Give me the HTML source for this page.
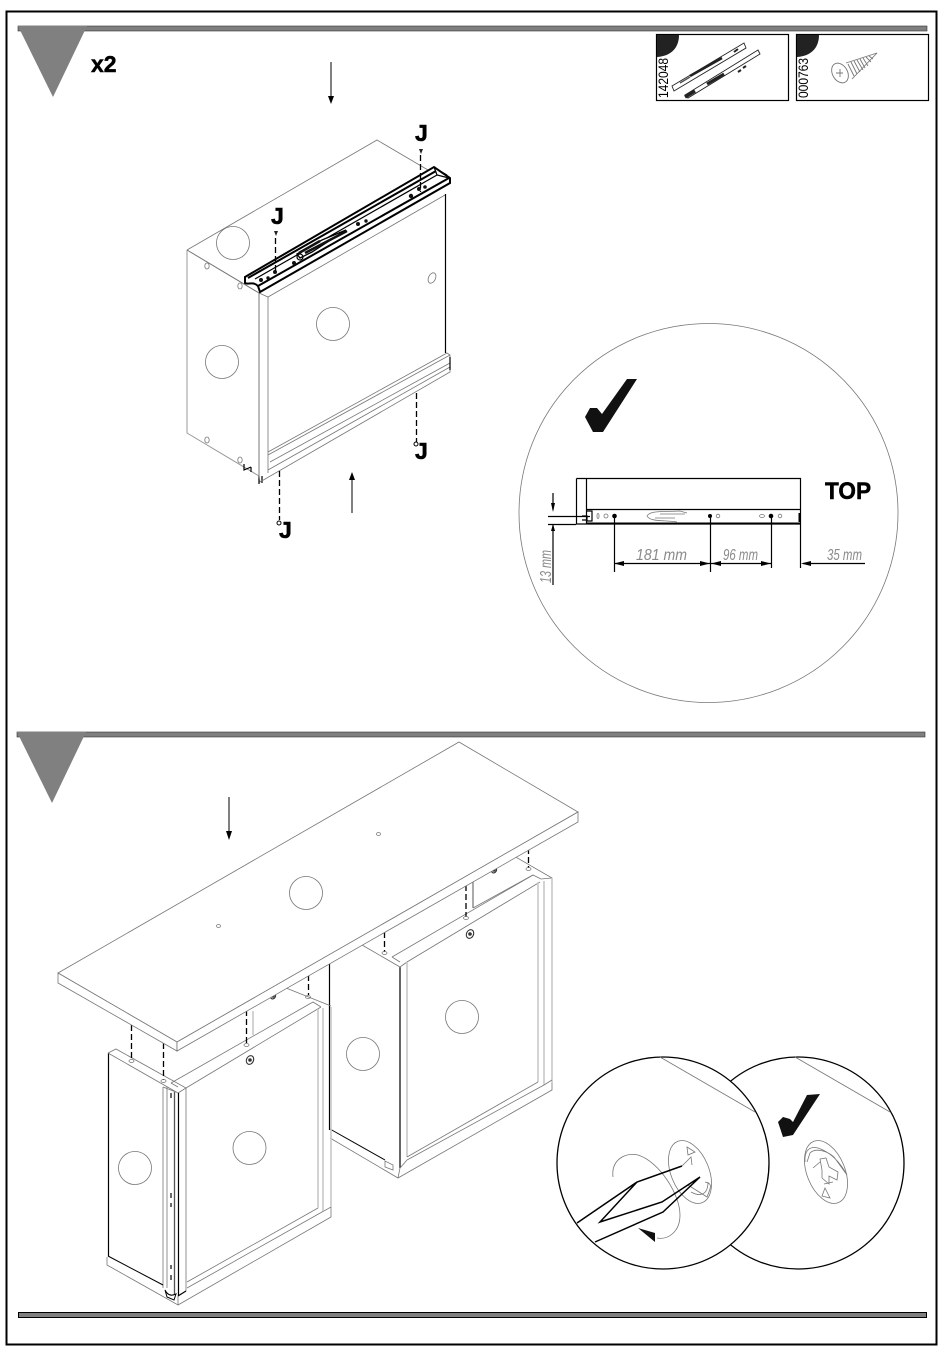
<!DOCTYPE html>
<html><head><meta charset="utf-8"><style>
html,body{margin:0;padding:0;background:#fff}
svg{display:block}
text{font-family:"Liberation Sans",sans-serif}
.g{fill:none;stroke:#777;stroke-width:.8}
.l{fill:none;stroke:#c8c8c8;stroke-width:1.6}
.k{fill:none;stroke:#000;stroke-width:1.2}
.b{fill:none;stroke:#000;stroke-width:2}
.d{fill:none;stroke:#000;stroke-width:1.3;stroke-dasharray:6 3}
.f{fill:#fff;stroke:#777;stroke-width:.8}
.dim{font-family:"Liberation Sans",sans-serif;font-style:italic;font-size:16px;fill:#8a8a8a;font-weight:normal}
</style></head><body>
<svg width="950" height="1360" viewBox="0 0 950 1360" xmlns="http://www.w3.org/2000/svg">
<rect width="950" height="1360" fill="#fff"/>
<rect x="6.500" y="11.500" width="930" height="1333" fill="none" stroke="#000" stroke-width="2"/>

<!-- header bars -->
<rect x="18" y="26" width="909" height="5" fill="#7f7f7f" stroke="#333" stroke-width=".6"/>
<polygon points="18,26 87,26 53,97" fill="#808080"/>
<text x="91" y="72" font-size="23" font-weight="bold" stroke="#000" stroke-width=".5">x2</text>
<rect x="17" y="732" width="908" height="5" fill="#7f7f7f" stroke="#333" stroke-width=".6"/>
<polygon points="17,732 86,732 52,803" fill="#808080"/>
<rect x="18.500" y="1312.500" width="908" height="5" fill="#7f7f7f" stroke="#000" stroke-width="1"/>

<!-- part cards -->
<rect x="656.500" y="34.500" width="132" height="66" fill="#fff" stroke="#000" stroke-width="1.200"/>
<rect x="796.500" y="34.500" width="132" height="66" fill="#fff" stroke="#000" stroke-width="1.200"/>
<path d="M657,35H679C679,47 672,56 657,57Z" fill="#222"/>
<path d="M797,35H819C819,47 812,56 797,57Z" fill="#222"/>
<text transform="translate(668,98) rotate(-90)" font-size="14" textLength="40" lengthAdjust="spacingAndGlyphs">142048</text>
<text transform="translate(808,98) rotate(-90)" font-size="14" textLength="40" lengthAdjust="spacingAndGlyphs">000763</text>
<g fill="#fff" stroke="#222" stroke-width=".9">
<polygon points="672,86 744,43 746,48 674,91"/>
<polygon points="685,95 758,50 760,54 688,98"/>
</g>
<path d="M690,76 L722,58" stroke="#222" stroke-width="2.500"/>
<path d="M680,83 L690,77" stroke="#555" stroke-width="1.500"/>
<path d="M707,84 L724,74" stroke="#222" stroke-width="3"/>
<path d="M685,97 L695,91" stroke="#222" stroke-width="3.500"/>
<path d="M738,72 L741,70 M743,68 L746,66 M734,52 L738,49" stroke="#222" stroke-width="2"/>
<g fill="none" stroke="#777" stroke-width=".9">
<ellipse cx="840" cy="73" rx="7.500" ry="10.500" transform="rotate(-30 840 73)"/>
<path d="M846,63 L877,53 L852,79"/>
<path d="M848,64 L854,76 M851,62 L857,74 M854,61 L860,72 M857,60 L863,70 M860,59 L865,68 M863,58 L868,66 M866,57 L871,62 M869,56 L873,59"/>
<path d="M836,73 L843,73 M840,69 L840,77"/>
</g>

<!-- TOP DIAGRAM cabinet -->
<path class="g" d="M187,250 L377,140 L428,170"/>
<circle class="g" cx="233" cy="243" r="16.500"/>
<path d="M187,250 V433 L259,476" fill="none" stroke="#999" stroke-width="1"/>
<path d="M187,250 L259,293 V476" fill="none" stroke="#777" stroke-width="1"/>
<path class="g" d="M268,297 V473"/>
<path class="g" d="M259,293 L268,297 L445,195"/>
<path class="k" d="M445.500,194 V353"/>
<circle class="g" cx="333" cy="324" r="16.500"/>
<circle class="g" cx="222" cy="362" r="16.500"/>
<ellipse class="g" cx="432" cy="278" rx="3.500" ry="5.500" transform="rotate(25 432 278)"/>
<ellipse class="g" cx="207" cy="266" rx="2.200" ry="3"/>
<ellipse class="g" cx="240" cy="286" rx="2.200" ry="3"/>
<ellipse class="g" cx="207" cy="440" rx="2.200" ry="3"/>
<ellipse class="g" cx="240" cy="460" rx="2.200" ry="3"/>
<path class="k" d="M244,464 V470 L251,467 M259,476 V484 M262,476 V483 M251,467 V472"/>
<!-- bottom rail -->
<path class="g" d="M268,452 L447,353 L450,355 V372 L260,482 L259,476"/>
<path class="g" d="M268,455 L450,355"/>
<path class="g" d="M270,462 L450,363"/>
<path class="g" d="M268,470 L450,367"/>
<path class="k" d="M450,357 V370"/>
<!-- top rail -->
<path fill="#fff" stroke="#000" stroke-width="2" d="M245,277 L434,167 L450,178 V183 L260,292 L258,286 C253,281 248,285 245,283Z"/>
<path class="b" d="M248,278 L436,171"/>
<path class="k" d="M255,279 L437,175"/>
<path class="b" d="M258,286 L449,178"/>
<path class="k" d="M434,167 L437,175 L449,178 M438,170 L447,175"/>
<path d="M297,254 L322,240 L346,230 L312,252 L300,258Z" fill="#fff" stroke="#000" stroke-width="1.300"/>
<path d="M305,253 L347,231 M299,253 L320,241" stroke="#111" stroke-width="2.500"/>
<circle class="k" cx="300" cy="257" r="3"/>
<g fill="#111"><circle cx="261" cy="280" r="2"/><circle cx="268" cy="278" r="1.700"/><circle cx="275" cy="272" r="2"/><circle cx="294" cy="263" r="2"/>
<circle cx="358" cy="224" r="2"/><circle cx="366" cy="221" r="1.700"/><circle cx="411" cy="196" r="2.200"/><circle cx="419" cy="189" r="2"/><circle cx="425" cy="187" r="1.800"/></g>
<!-- screws -->
<path class="d" d="M275.500,238 V272"/><path class="d" d="M420.500,155 V192"/>
<path d="M274,231 H278 L276,236Z M419,149 H423 L421,154Z" fill="#222"/>
<path class="d" d="M416.500,393 V442" stroke-dasharray="18 3"/>
<path class="d" d="M279.500,471 V520" stroke-dasharray="18 3"/>
<circle cx="416" cy="444" r="2" fill="#fff" stroke="#000"/><circle cx="279" cy="523" r="2" fill="#fff" stroke="#000"/>
<g font-size="23" font-weight="bold" stroke="#000" stroke-width=".6">
<text x="415" y="141">J</text><text x="271" y="224">J</text><text x="415" y="459">J</text><text x="279" y="538">J</text>
</g>
<!-- arrows -->
<path d="M331,62 V100" stroke="#000" stroke-width="1"/><path d="M328,96 L331,104 L334,96Z" fill="#000"/>
<path d="M352,513 V476" stroke="#000" stroke-width="1"/><path d="M349,480 L352,472 L355,480Z" fill="#000"/>

<!-- detail circle -->
<circle class="g" cx="708.500" cy="513" r="189.500"/>
<polygon points="585,417 590,408 597,408 602,414 627,379 637,379 603,432 593,432" fill="#111"/>
<path class="k" d="M576.500,478.500 H800.500 V523 M576.500,478.500 V524 H800 M586.500,478.500 V524 M587,509.500 H800"/>
<path d="M587,523.500 H800" stroke="#000" stroke-width="2"/>
<path d="M799.500,513 V522" stroke="#000" stroke-width="2"/>
<path class="k" d="M587,511 H592 V521 H587 M582,516 H587 V520 H582"/>
<path class="k" d="M548,516.500 H590 M548,524.500 H576"/>
<path class="k" d="M553,493 V510 M553,524 V585"/>
<path d="M551,503 L553,512 L555,503Z M551,531 L553,524 L555,531Z" fill="#000"/>
<g fill="#000"><circle cx="614.500" cy="516" r="2.300"/><circle cx="710" cy="516" r="2"/><circle cx="771" cy="516" r="2.300"/></g>
<g fill="none" stroke="#777" stroke-width=".8"><ellipse cx="598" cy="516" rx="1" ry="2.500"/><circle cx="606" cy="516" r="2"/><circle cx="718" cy="516" r="1.800"/><ellipse cx="762" cy="516" rx="2.500" ry="1.500"/><circle cx="780" cy="516" r="1.800"/>
<path d="M647,516 C650,510 665,512 680,511 L687,513 M647,516 C650,522 665,520 677,522 M660,514 H685 M655,518 H675"/></g>
<path class="k" d="M614.500,517 V572 M710.500,517 V572 M771.500,517 V568 M800.500,523 V568"/>
<path class="k" d="M614,563.500 H710 M711,563.500 H771 M803,563.500 H865"/>
<path d="M624,561 L614,563.500 L624,566Z M700,561 L710,563.500 L700,566Z M721,561 L711,563.500 L721,566Z M761,561 L771,563.500 L761,566Z M811,561 L801,563.500 L811,566Z" fill="#000"/>
<text class="dim" x="636" y="560" textLength="51" lengthAdjust="spacingAndGlyphs">181 mm</text>
<text class="dim" x="723" y="560" textLength="35" lengthAdjust="spacingAndGlyphs">96 mm</text>
<text class="dim" x="827" y="560" textLength="35" lengthAdjust="spacingAndGlyphs">35 mm</text>
<text class="dim" transform="translate(551,583) rotate(-90)" textLength="33" lengthAdjust="spacingAndGlyphs">13 mm</text>
<text x="825" y="499" font-size="24" font-weight="bold" stroke="#000" stroke-width=".5" textLength="46" lengthAdjust="spacingAndGlyphs">TOP</text>

<!-- BOTTOM DIAGRAM -->
<!-- right cabinet -->
<path class="k" d="M329.500,963 V1130"/>
<path d="M330,1129 L385,1160" stroke="#000" stroke-width="1"/>
<path class="g" d="M330,1138 L398,1178 L552,1090 V878 L507,852"/>
<path class="k" d="M400,967 V1168"/>
<path class="g" d="M362,945 L400,967 L407,962 M392,957 L533,875 L541,879 M407,962 L540,882 M392,957 L400,962 M541,879 L552,878"/>
<path class="g" d="M400,1168 L398,1178"/>
<path class="l" d="M407,962 V1157"/>
<path class="l" d="M538,882 V1082 M544,881 V1085 M552,878 V1083"/>
<path class="g" d="M407,1157 L538,1082 M407,1160 L544,1085 L552,1080 M400,1168 L407,1160"/>
<path class="g" d="M385,1161 V1167 L393,1170 V1165 Z"/>
<path d="M473,882 V908" stroke="#555" stroke-width="1"/>
<path class="g" d="M473,908 L533,875"/>
<circle class="g" cx="462" cy="1017" r="16.500"/>
<circle class="g" cx="363" cy="1054" r="16.500"/>
<g fill="none" stroke="#333" stroke-width="1.100"><ellipse cx="470" cy="934" rx="3.500" ry="4.500" transform="rotate(25 470 934)"/><ellipse cx="494" cy="870" rx="2.500" ry="3" transform="rotate(25 494 870)"/></g>
<circle cx="470" cy="934" r="1.800" fill="#333"/><circle cx="494" cy="870" r="1.800" fill="#333"/>
<path class="d" d="M384.500,932 V952 M466,885 V917 M528.500,848 V868"/>
<ellipse class="g" cx="384.500" cy="953" rx="2.500" ry="1.500"/><ellipse class="g" cx="466" cy="918" rx="2.500" ry="1.500"/><ellipse class="g" cx="528.500" cy="869" rx="2.500" ry="1.500"/>

<!-- left cabinet -->
<path class="k" d="M108.500,1053 V1256"/>
<path class="g" d="M108,1053 L116,1049 L186,1088 L178,1093 L108,1053"/>
<path class="g" d="M171,1083 L313,1002 L321,1007 M186,1088 L321,1007 M171,1083 L178,1087 M286,988 L331,1006"/>
<path class="k" d="M178.500,1093 V1296" stroke-width="1.300"/>
<path class="g" d="M186,1088 V1291"/>
<path class="g" d="M163,1087 V1288 M167,1087 V1288 M163,1087 L176,1092"/>
<path d="M174.500,1092 V1295" stroke="#555" stroke-width="1.300"/>
<path class="g" d="M107,1257 V1265 L178,1305 V1296"/>
<path d="M108,1256 L163,1285" stroke="#000" stroke-width="1"/>
<path class="g" d="M178,1305 L331,1217 V1207 L322,1212 M187,1282 L318,1208 M187,1288 L322,1212"/>
<path class="l" d="M318,1009 V1208 M323,1008 V1211 M331,1007 V1207"/>
<path class="l" d="M253,1011 V1035"/>
<path d="M165,1290 C168,1296 172,1296 176,1294 L174,1300 L167,1297Z" fill="#fff" stroke="#000" stroke-width="1"/>
<path class="k" d="M178,1296 L186,1291"/>
<circle class="g" cx="135" cy="1168" r="16.500"/>
<circle class="g" cx="249.500" cy="1148" r="16.500"/>
<g fill="none" stroke="#333" stroke-width="1.100"><ellipse cx="250" cy="1060" rx="3.500" ry="4.500" transform="rotate(25 250 1060)"/><ellipse cx="273" cy="996" rx="2.500" ry="3" transform="rotate(25 273 996)"/></g>
<circle cx="250" cy="1060" r="1.800" fill="#333"/><circle cx="273" cy="996" r="1.800" fill="#333"/>
<path class="d" d="M131.500,1025 V1059 M163.500,1043 V1080 M246.500,1010 V1044 M308.500,975 V995"/>
<ellipse class="g" cx="131.500" cy="1061" rx="2.500" ry="1.500"/><ellipse class="g" cx="163.500" cy="1081" rx="2.500" ry="1.500"/><ellipse class="g" cx="246.500" cy="1045" rx="2.500" ry="1.500"/><ellipse class="g" cx="308" cy="997" rx="2.500" ry="1.500"/>
<path d="M171,1093 V1098 M171,1193 V1198 M171,1203 V1207 M171,1265 V1269 M171,1275 V1280" stroke="#444" stroke-width="1.600" fill="none"/>

<!-- table top -->
<polygon class="f" points="58,973 459,742 578,812 177,1042"/>
<polygon class="f" points="58,973 177,1042 177,1051 58,983"/>
<polygon class="f" points="177,1042 578,812 578,822 177,1051"/>
<circle class="g" cx="306" cy="893" r="16.500"/>
<ellipse class="g" cx="378.500" cy="834" rx="2" ry="1.500"/>
<ellipse class="g" cx="218.500" cy="926" rx="2" ry="1.500"/>
<path d="M229,797 V835" stroke="#000" stroke-width="1"/><path d="M226,831 L229,840 L232,831Z" fill="#000"/>

<!-- right detail circle -->
<circle cx="798" cy="1163" r="106" fill="#fff" stroke="#000" stroke-width="1.300"/>
<path class="g" d="M795,1057 L890,1112"/>
<polygon points="778,1122 783,1117 790,1119 793,1122 807,1095 820,1094 793,1135 783,1137" fill="#111"/>
<ellipse class="g" cx="826" cy="1172" rx="19" ry="33" transform="rotate(-22 826 1172)"/>
<path class="g" d="M805,1162 C804,1150 810,1146 818,1148 C830,1152 840,1162 847,1175 L834,1157 C826,1150 815,1148 810,1153 L807,1162"/>
<path class="g" d="M820,1159 L826,1158 L829,1167 L838,1172 L837,1180 L829,1176 L829,1184 L822,1178 L822,1170Z M813,1168 L820,1162 M824,1184 L833,1182"/>
<path class="g" d="M825,1188 L830,1198 L822,1196Z"/>

<!-- left detail circle -->
<circle cx="663" cy="1163" r="106" fill="#fff" stroke="#000" stroke-width="1.300"/>
<path class="g" d="M660,1057 L755,1112"/>
<ellipse class="g" cx="690" cy="1172" rx="19" ry="33" transform="rotate(-22 690 1172)"/>
<path class="g" d="M687,1147 L695,1152 L688,1155Z"/>
<path class="g" d="M688,1185 L707,1197 C712,1185 712,1184 705,1182 M691,1192 C700,1197 708,1195 708,1182"/>
<path class="g" d="M613,1177 C611,1160 625,1152 638,1155 C660,1162 680,1195 680,1215 C680,1232 668,1240 657,1238"/>
<polygon points="638,1228 655,1233 655,1242" fill="#111"/>
<path d="M577,1223 L637,1182 L682,1166 M637,1182 L600,1222 L662,1202 L700,1177 L663,1212 L595,1242" fill="none" stroke="#000" stroke-width="1.500"/>
<path class="g" d="M682,1166 L691,1157 L692,1165"/>
</svg>
</body></html>
